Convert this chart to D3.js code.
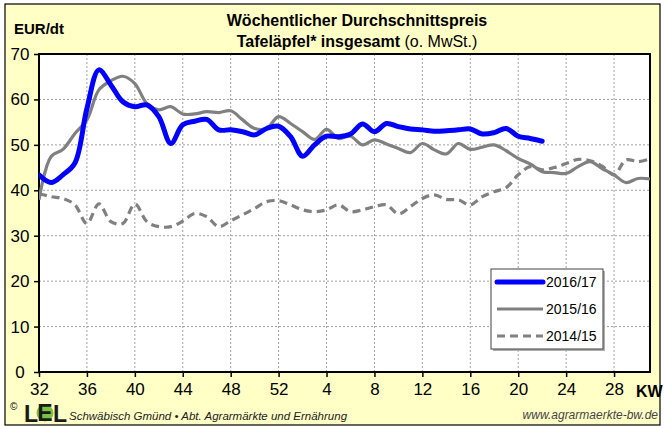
<!DOCTYPE html>
<html>
<head>
<meta charset="utf-8">
<script src="https://cdn.jsdelivr.net/npm/d3@7"></script>
<style>
body { margin: 0; background: #fff; }
svg text { font-family: "Liberation Sans", Arial, sans-serif; }
</style>
</head>
<body>
<svg id="chart" width="664" height="426"></svg>
<script>
// Kalenderwochen, index 0 = KW32 (2016), KW52 -> KW1
var weeks = [32,33,34,35,36,37,38,39,40,41,42,43,44,45,46,47,48,49,50,51,52,
	1,2,3,4,5,6,7,8,9,10,11,12,13,14,15,16,17,18,19,20,21,22,23,24,25,26,27,28,29,30,31]
var tickWeeks = [32,36,40,44,48,52,4,8,12,16,20,24,28]
var yTicks = [0,10,20,30,40,50,60,70]

var s2016 = [43.4,41.7,43.4,46.0,58.0,66.5,63.2,59.5,58.4,58.8,56.2,50.3,54.4,55.2,55.6,53.3,53.3,52.9,52.2,53.6,54.1,
	51.8,47.5,50.0,51.9,51.8,52.4,54.6,52.9,54.7,54.0,53.5,53.3,53.0,53.1,53.3,53.5,52.4,52.7,53.6,51.9,51.4,50.8]
var s2015 = [37.9,47.4,49.0,52.5,55.5,62.1,64.1,65.1,63.5,59.1,57.7,58.4,56.8,56.8,57.3,57.1,57.5,55.5,53.6,53.6,56.2,
	54.7,52.9,51.2,53.4,51.4,51.9,50.0,51.1,50.2,49.2,48.3,50.3,48.9,48.0,50.3,49.0,49.5,50.0,48.7,47.0,45.8,44.1,
	43.9,43.7,45.2,46.3,44.8,43.4,41.7,42.6,42.5]
var s2014 = [39.3,38.6,38.2,36.8,32.7,37.0,33.1,32.7,37.0,33.1,32.0,32.0,33.2,34.9,34.2,32.0,33.3,34.6,36.0,37.5,37.7,
	36.8,35.7,35.3,35.7,36.8,35.3,35.7,36.4,36.8,34.8,36.4,38.2,39.0,38.0,37.9,36.8,38.6,39.7,40.6,43.4,45.2,44.5,
	45.0,45.9,46.8,46.5,45.3,43.4,46.7,46.3,46.9]

var seriesNames = ['2016/17', '2015/16', '2014/15']

var svg = d3.select('#chart')

var plot = {'left': 39, 'right': 650, 'top': 54, 'bottom': 372}

// background + outer frame
svg.append('rect')
	.attr('x', 5).attr('y', 4).attr('width', 655).attr('height', 421)
	.attr('fill', '#ffffc6').attr('stroke', '#000').attr('stroke-width', 1.2)

svg.append('rect')
	.attr('x', plot.left).attr('y', plot.top)
	.attr('width', plot.right - plot.left).attr('height', plot.bottom - plot.top)
	.attr('fill', '#fff')

var x = d3.scaleLinear().domain([0, 51]).range([plot.left, plot.right])
var y = d3.scaleLinear().domain([0, 70]).range([plot.bottom, plot.top])

var idx = function(w) { return weeks.indexOf(w) }

// grid
var g = svg.append('g')
g.selectAll('.hgrid').data(yTicks.slice(1, -1)).enter().append('line')
	.attr('x1', plot.left).attr('x2', plot.right)
	.attr('y1', d => y(d)).attr('y2', d => y(d))
	.attr('stroke', '#a0a0a0').attr('stroke-width', 1).attr('stroke-dasharray', '2,2')
g.selectAll('.vgrid').data(tickWeeks.slice(1)).enter().append('line')
	.attr('x1', d => x(idx(d))).attr('x2', d => x(idx(d)))
	.attr('y1', plot.top).attr('y2', plot.bottom)
	.attr('stroke', '#a0a0a0').attr('stroke-width', 1).attr('stroke-dasharray', '2,2')

// axes
var xAxis = d3.axisBottom(x)
	.tickValues(tickWeeks.map(idx))
	.tickFormat(d => weeks[d])
	.tickSize(5).tickPadding(6)
var yAxis = d3.axisLeft(y).tickValues(yTicks).tickSize(5).tickPadding(4)

var xa = svg.append('g').attr('transform', 'translate(0,' + plot.bottom + ')').call(xAxis)
var ya = svg.append('g').attr('transform', 'translate(' + plot.left + ',0)').call(yAxis)
;[xa, ya].forEach(function(a) {
	a.select('.domain').remove()
	a.selectAll('line').attr('stroke', '#000').attr('stroke-width', 1.5)
	a.selectAll('text').attr('font-size', 17).attr('fill', '#000')
		.attr('font-family', '"Liberation Sans", Arial, sans-serif')
})
// y labels are centred in the left margin
ya.selectAll('text').attr('text-anchor', 'middle').attr('x', 20 - plot.left)

// plot frame
svg.append('rect')
	.attr('x', plot.left).attr('y', plot.top)
	.attr('width', plot.right - plot.left).attr('height', plot.bottom - plot.top)
	.attr('fill', 'none').attr('stroke', '#000').attr('stroke-width', 2)

// lines
var clip = svg.append('clipPath').attr('id', 'clip').append('rect')
	.attr('x', plot.left).attr('y', plot.top - 10)
	.attr('width', plot.right - plot.left).attr('height', plot.bottom - plot.top + 10)

var line = d3.line()
	.x((d, i) => x(i))
	.y(d => y(d))
	.curve(d3.curveCatmullRom.alpha(0.5))

var lines = svg.append('g').attr('clip-path', 'url(#clip)')
lines.append('path').datum(s2014).attr('d', line)
	.attr('fill', 'none').attr('stroke', '#808080').attr('stroke-width', 3.2)
	.attr('stroke-dasharray', '8,5')
lines.append('path').datum(s2015).attr('d', line)
	.attr('fill', 'none').attr('stroke', '#808080').attr('stroke-width', 3.2)
lines.append('path').datum(s2016).attr('d', line)
	.attr('fill', 'none').attr('stroke', '#0000ff').attr('stroke-width', 5)
	.attr('stroke-linecap', 'round')

// titles
svg.append('text').attr('x', 357).attr('y', 26).attr('text-anchor', 'middle')
	.attr('font-size', 16).attr('font-weight', 'bold').text('Wöchentlicher Durchschnittspreis')
var t2 = svg.append('text').attr('x', 357).attr('y', 47).attr('text-anchor', 'middle')
	.attr('font-size', 16)
t2.append('tspan').attr('font-weight', 'bold').text('Tafeläpfel* insgesamt')
t2.append('tspan').text(' (o. MwSt.)')

svg.append('text').attr('x', 14).attr('y', 34)
	.attr('font-size', 15).attr('font-weight', 'bold').text('EUR/dt')

svg.append('text').attr('x', 636).attr('y', 397)
	.attr('font-size', 16).attr('font-weight', 'bold').text('KW')

// legend
var leg = svg.append('g').attr('transform', 'translate(491,269)')
leg.append('rect').attr('x', 2).attr('y', 2).attr('width', 112).attr('height', 80).attr('fill', '#b0b0b0')
leg.append('rect').attr('width', 112).attr('height', 80)
	.attr('fill', '#fff').attr('stroke', '#404040').attr('stroke-width', 1)
var legStyles = [
	{stroke: '#0000ff', w: 5, dash: null},
	{stroke: '#808080', w: 3.2, dash: null},
	{stroke: '#808080', w: 3.2, dash: '8,5'}
]
seriesNames.forEach(function(name, i) {
	var yy = 13 + i * 27
	leg.append('line').attr('x1', 6).attr('x2', 52).attr('y1', yy).attr('y2', yy)
		.attr('stroke', legStyles[i].stroke).attr('stroke-width', legStyles[i].w)
		.attr('stroke-dasharray', legStyles[i].dash).attr('stroke-linecap', i == 0 ? 'round' : 'butt')
	leg.append('text').attr('x', 55).attr('y', yy + 5).attr('font-size', 14).text(name)
})

// footer
svg.append('text').attr('x', 10).attr('y', 410).attr('font-size', 10).text('©')
var logo = svg.append('g')
logo.append('text').attr('x', 24).attr('y', 422).attr('font-size', 23).attr('font-weight', 'bold')
	.attr('fill', '#1a1a1a').text('L')
logo.append('circle').attr('cx', 45).attr('cy', 413).attr('r', 8.5).attr('fill', '#7cc242')
logo.append('text').attr('x', 45).attr('y', 421).attr('text-anchor', 'middle')
	.attr('font-size', 23).attr('font-weight', 'bold').attr('fill', '#1a1a1a').text('E')
logo.append('text').attr('x', 53).attr('y', 422).attr('font-size', 23).attr('font-weight', 'bold')
	.attr('fill', '#1a1a1a').text('L')

svg.append('text').attr('x', 69).attr('y', 420).attr('font-size', 11.5).attr('font-style', 'italic')
	.attr('fill', '#222').text('Schwäbisch Gmünd • Abt. Agrarmärkte und Ernährung')
svg.append('text').attr('x', 658).attr('y', 419).attr('text-anchor', 'end')
	.attr('font-size', 12).attr('font-style', 'italic').attr('fill', '#444').text('www.agrarmaerkte-bw.de')
</script>
</body>
</html>
